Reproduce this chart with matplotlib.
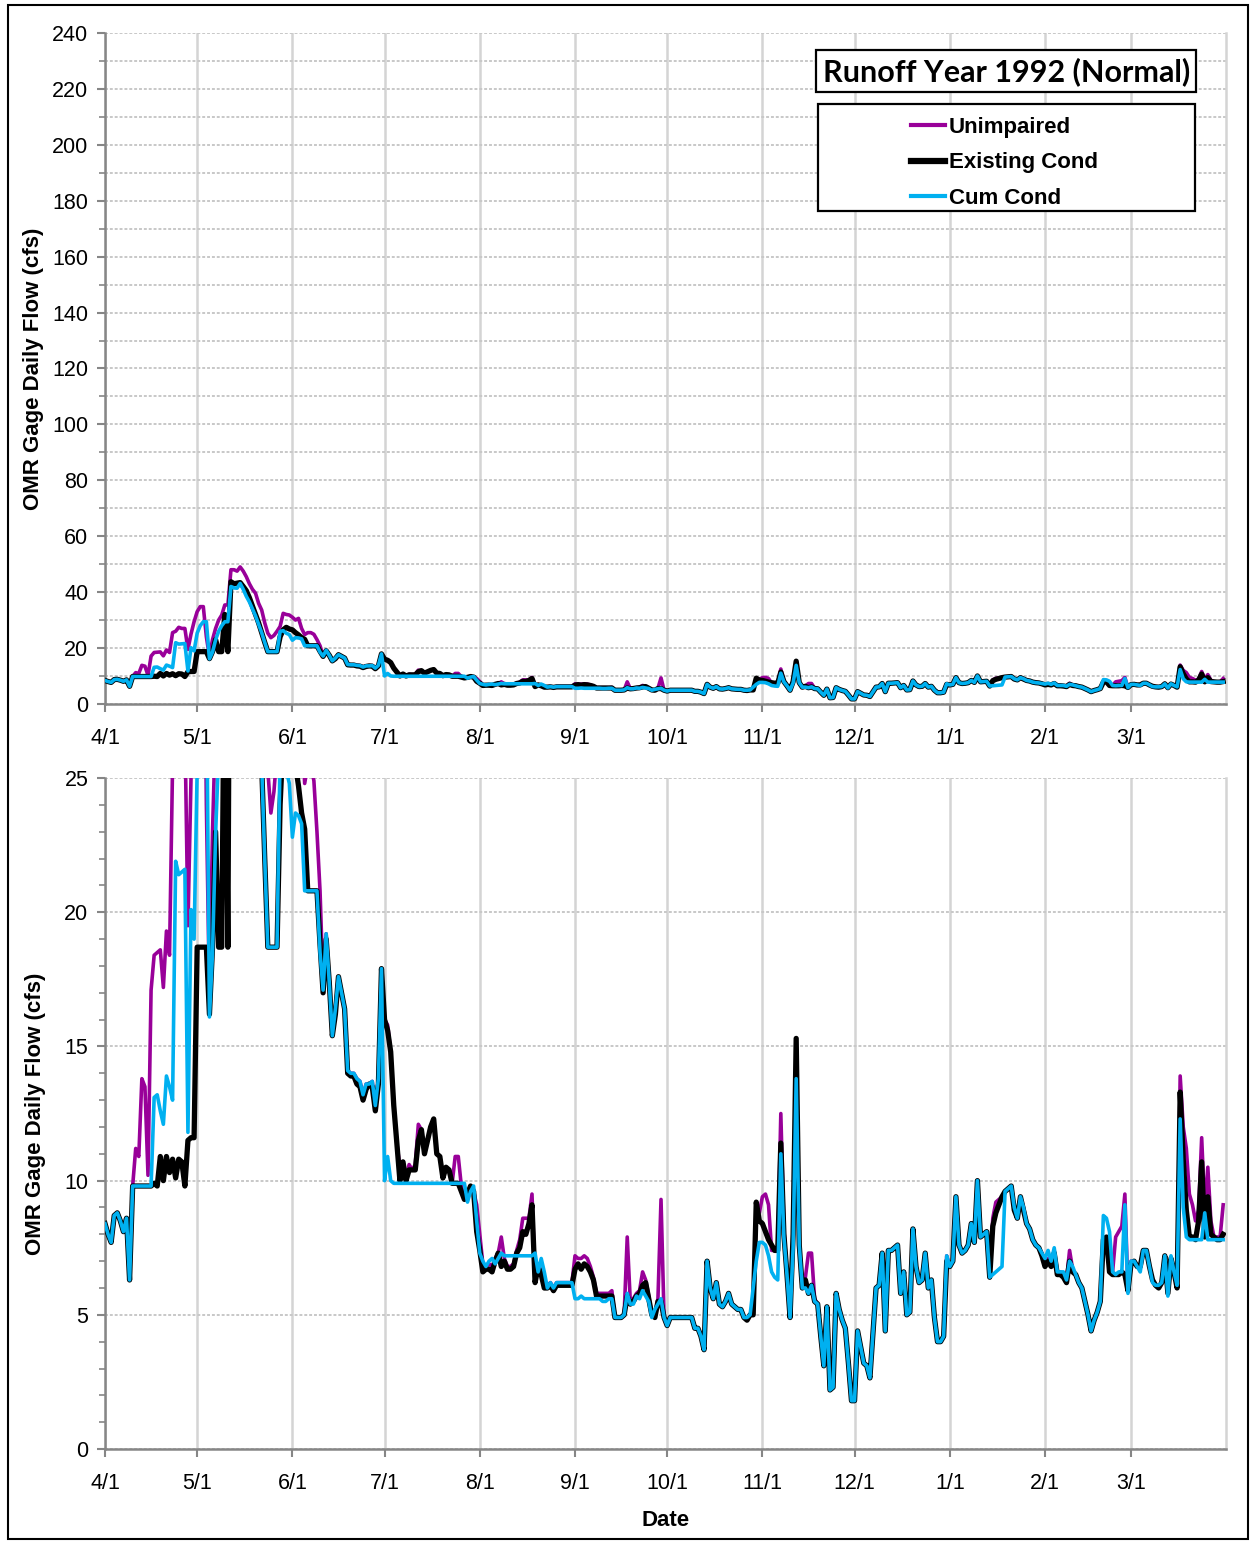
import numpy as np
import pandas as pd
import matplotlib
matplotlib.use("Agg")
import matplotlib.pyplot as plt
from matplotlib.patches import Rectangle
from matplotlib.ticker import MultipleLocator

# daily flows, 4/1/1992 - 3/31/1993 (cfs)
existing = [
    8.4, 8.0, 7.7, 8.7, 8.8, 8.5, 8.1, 8.6, 6.3, 9.8,
    9.8, 9.8, 9.8, 9.8, 9.8, 9.8, 9.9, 9.8, 10.9, 10.0,
    10.9, 10.3, 10.8, 10.1, 10.8, 10.7, 9.8, 11.5, 11.6, 11.6,
    18.7, 18.7, 18.7, 18.7, 16.2, 18.7, 23.0, 18.7, 18.7, 32.0,
    18.7, 43.7, 43.0, 43.2, 43.4, 42.0, 40.5, 38.0, 35.0, 32.0,
    29.0, 25.5, 22.0, 18.7, 18.7, 18.7, 18.7, 24.0, 26.5, 27.4,
    26.8, 26.5, 25.5, 24.7, 23.7, 23.1, 20.8, 20.8, 20.8, 20.8,
    18.8, 17.0, 19.0, 17.4, 15.4, 16.2, 17.6, 17.0, 16.4, 14.0,
    13.9, 13.9, 13.6, 13.5, 13.0, 13.4, 13.6, 13.5, 12.6, 13.6,
    17.9, 16.0, 15.6, 14.8, 12.8, 11.4, 10.0, 10.7, 10.0, 10.4,
    10.4, 10.4, 11.5, 11.9, 11.0, 11.5, 12.0, 12.3, 11.0, 10.9,
    10.1, 10.5, 10.4, 9.9, 9.9, 9.9, 9.6, 9.3, 9.5, 9.8,
    9.6, 8.1, 7.4, 6.6, 6.7, 6.7, 6.6, 7.0, 7.3, 6.8,
    7.0, 6.7, 6.7, 6.8, 7.3, 7.5, 8.1, 8.0, 8.4, 9.1,
    6.2, 6.8, 6.5, 6.0, 6.0, 6.1, 5.9, 6.1, 6.1, 6.1,
    6.1, 6.1, 6.1, 6.7, 6.9, 6.7, 6.9, 6.8, 6.6, 6.3,
    5.7, 5.7, 5.7, 5.7, 5.7, 5.7, 4.9, 4.9, 4.9, 5.0,
    5.7, 5.4, 5.5, 5.7, 5.8, 6.1, 6.2, 5.6, 5.0, 4.9,
    5.5, 5.5, 4.9, 4.6, 4.9, 4.9, 4.9, 4.9, 4.9, 4.9,
    4.9, 4.9, 4.5, 4.5, 4.2, 3.7, 7.0, 6.0, 5.6, 6.2,
    5.4, 5.3, 5.5, 5.8, 5.4, 5.3, 5.2, 5.2, 4.9, 4.8,
    5.0, 5.0, 9.2, 8.5, 8.4, 8.1, 7.8, 7.6, 7.4, 7.4,
    11.4, 8.0, 6.5, 4.9, 8.0, 15.3, 7.6, 6.0, 6.3, 5.8,
    6.1, 5.5, 5.4, 4.2, 3.1, 5.3, 2.2, 2.3, 5.8, 5.2,
    4.8, 4.5, 3.2, 1.8, 1.8, 4.4, 3.8, 3.2, 3.1, 2.65,
    4.3, 6.0, 6.1, 7.3, 4.4, 7.4, 7.4, 7.5, 7.6, 5.8,
    6.6, 5.0, 5.1, 8.2, 6.8, 6.2, 6.3, 7.3, 6.0, 6.3,
    4.9, 4.0, 4.0, 4.2, 7.0, 6.8, 7.0, 9.4, 7.6, 7.3,
    7.4, 7.6, 8.4, 7.7, 10.0, 7.9, 8.0, 8.1, 6.4, 8.3,
    8.8, 9.1, 9.4, 9.6, 9.7, 9.8, 8.9, 8.6, 9.4, 8.9,
    8.4, 8.2, 7.8, 7.6, 7.5, 7.2, 6.8, 7.0, 6.8, 7.3,
    6.5, 6.5, 6.4, 6.2, 7.0, 6.6, 6.5, 6.2, 6.0, 5.5,
    5.0, 4.4, 4.8, 5.1, 5.5, 7.8, 7.9, 6.6, 6.5, 6.5,
    6.5, 6.6, 6.5, 5.9, 6.9, 7.0, 6.8, 6.8, 7.4, 7.4,
    6.8, 6.3, 6.1, 6.0, 6.2, 7.2, 5.8, 7.1, 6.6, 6.0,
    13.3, 10.8, 8.9, 7.9, 7.9, 7.8, 8.5, 10.7, 7.9, 9.4,
    8.0, 7.9, 7.8, 7.8, 8.0,
]

cum_cond = [
    8.4, 8.0, 7.7, 8.7, 8.8, 8.5, 8.1, 8.6, 6.3, 9.8,
    9.8, 9.8, 9.8, 9.8, 9.8, 9.8, 13.1, 13.2, 12.6, 12.1,
    13.9, 13.5, 13.0, 21.9, 21.4, 21.5, 21.6, 11.8, 20.1, 19.0,
    25.3, 28.0, 29.4, 29.4, 16.1, 18.5, 22.9, 26.0, 28.0, 29.4,
    29.4, 42.0, 41.5, 41.4, 43.1, 41.0, 38.5, 36.5, 34.0, 31.5,
    28.5, 25.5, 22.0, 18.7, 18.7, 18.7, 18.7, 25.9, 26.2, 25.3,
    24.8, 22.8, 23.7, 23.6, 23.3, 20.8, 20.8, 20.8, 20.8, 20.8,
    18.5, 17.1, 19.2, 17.4, 15.4, 16.4, 17.6, 17.0, 16.4, 14.1,
    14.0, 14.0, 13.8, 13.7, 13.2, 13.6, 13.6, 13.7, 12.8, 13.8,
    17.9, 10.0, 10.9, 10.0, 9.9, 9.9, 9.9, 9.9, 9.9, 9.9,
    9.9, 9.9, 9.9, 9.9, 9.9, 9.9, 9.9, 9.9, 9.9, 9.9,
    9.9, 9.9, 9.9, 9.9, 9.9, 9.9, 9.9, 9.9, 9.2, 9.6,
    9.8, 8.5, 7.3, 7.0, 6.8, 7.0, 7.1, 6.9, 7.1, 7.3,
    7.2, 7.2, 7.2, 7.2, 7.2, 7.2, 7.2, 7.2, 7.2, 7.2,
    7.3, 6.6, 7.1, 6.6, 6.0, 6.2, 6.0, 6.2, 6.2, 6.2,
    6.2, 6.2, 6.2, 5.6, 5.6, 5.7, 5.6, 5.6, 5.6, 5.6,
    5.6, 5.6, 5.5, 5.5, 5.6, 5.6, 4.9, 4.9, 4.9, 5.0,
    5.8, 5.4, 5.4, 5.7, 5.6, 5.9, 5.7, 5.5, 4.9, 5.2,
    5.4, 5.6, 4.9, 4.6, 4.9, 4.9, 4.9, 4.9, 4.9, 4.9,
    4.9, 4.9, 4.5, 4.5, 4.2, 3.7, 7.0, 6.0, 5.6, 6.2,
    5.4, 5.3, 5.5, 5.8, 5.4, 5.3, 5.2, 5.2, 4.9, 4.9,
    5.0, 6.0, 7.0, 7.7, 7.7, 7.6, 7.2, 6.6, 6.4, 6.3,
    11.0, 7.9, 6.5, 4.9, 7.5, 13.8, 7.6, 6.0, 6.0, 5.8,
    6.1, 5.5, 5.4, 4.2, 3.1, 5.3, 2.2, 2.3, 5.8, 5.2,
    4.8, 4.5, 3.2, 1.8, 1.8, 4.4, 3.8, 3.2, 3.1, 2.65,
    4.3, 6.0, 6.1, 7.3, 4.4, 7.4, 7.4, 7.5, 7.6, 5.8,
    6.6, 5.0, 5.1, 8.2, 6.8, 6.2, 6.3, 7.3, 6.0, 6.3,
    4.9, 4.0, 4.0, 4.2, 7.2, 6.8, 7.0, 9.4, 7.6, 7.3,
    7.4, 7.6, 8.4, 7.7, 10.0, 7.9, 8.0, 8.1, 6.4, 6.5,
    6.6, 6.7, 6.8, 9.6, 9.7, 9.8, 9.0, 8.6, 9.4, 9.0,
    8.4, 8.2, 7.8, 7.6, 7.5, 7.3, 7.1, 7.4, 7.0, 7.5,
    6.6, 6.6, 6.6, 6.3, 7.0, 6.8, 6.5, 6.2, 6.0, 5.5,
    5.0, 4.4, 4.8, 5.1, 5.5, 8.7, 8.6, 8.1, 6.6, 6.5,
    6.6, 6.6, 9.1, 5.8, 7.0, 7.0, 6.8, 6.6, 7.4, 7.4,
    6.8, 6.2, 6.1, 6.1, 6.2, 7.2, 5.7, 7.2, 6.6, 6.1,
    12.3, 9.0, 7.9, 7.8, 7.8, 7.8, 7.8, 7.8, 8.8, 7.8,
    7.8, 7.8, 7.8, 7.8, 7.8,
]

unimpaired = [
    8.4, 8.0, 7.7, 8.7, 8.8, 8.5, 8.1, 8.6, 6.3, 9.8,
    11.2, 10.9, 13.8, 13.5, 10.2, 17.1, 18.4, 18.5, 18.6, 17.2,
    19.3, 18.4, 25.5, 26.0, 27.4, 27.0, 27.0, 19.5, 25.0, 29.4,
    33.0, 34.8, 34.8, 24.0, 16.9, 23.0, 27.0, 30.0, 31.8, 35.4,
    35.4, 48.0, 48.0, 47.5, 49.0, 47.5, 45.5, 43.0, 41.0, 39.6,
    36.0, 33.6, 29.0, 25.3, 23.7, 24.5, 26.0, 27.7, 32.4, 32.0,
    31.8, 31.0, 30.0, 30.6, 27.0, 24.8, 25.5, 25.5, 24.9, 23.0,
    20.8, 17.3, 19.2, 17.4, 15.4, 16.4, 17.6, 17.0, 16.4, 14.1,
    14.0, 14.0, 13.8, 13.7, 13.2, 13.6, 13.6, 13.7, 12.8, 13.8,
    17.9, 16.0, 15.8, 14.8, 12.8, 11.4, 10.5, 10.7, 10.1, 10.6,
    10.4, 10.6, 12.1, 11.9, 11.0, 11.5, 12.0, 12.3, 11.0, 10.9,
    10.1, 10.5, 10.4, 9.9, 10.9, 10.9, 9.8, 9.3, 9.5, 9.8,
    9.6, 9.1, 8.0, 6.9, 6.8, 6.9, 6.8, 7.1, 7.3, 7.9,
    7.1, 6.8, 6.8, 6.9, 7.4, 7.8, 8.6, 8.6, 8.6, 9.5,
    6.3, 6.9, 6.6, 6.1, 6.1, 6.2, 6.0, 6.2, 6.2, 6.2,
    6.2, 6.2, 6.2, 7.2, 7.1, 7.1, 7.2, 7.1, 6.8, 6.4,
    5.8, 5.8, 5.8, 5.8, 5.8, 5.9, 4.9, 4.9, 4.9, 5.0,
    7.9, 5.5, 5.6, 5.8, 5.9, 6.6, 6.3, 5.7, 5.0, 5.0,
    5.6, 9.3, 4.9, 4.6, 4.9, 4.9, 4.9, 4.9, 4.9, 4.9,
    4.9, 4.9, 4.5, 4.5, 4.2, 3.7, 7.0, 6.0, 5.6, 6.2,
    5.4, 5.3, 5.5, 5.8, 5.4, 5.3, 5.2, 5.2, 4.9, 4.8,
    5.0, 5.1, 9.2, 8.8, 9.4, 9.5, 9.1, 7.4, 7.4, 7.4,
    12.5, 8.2, 6.5, 4.9, 8.0, 13.9, 7.6, 6.0, 6.4, 7.3,
    7.3, 5.6, 5.4, 4.2, 3.1, 5.3, 2.2, 2.3, 5.8, 5.2,
    4.8, 4.5, 3.2, 1.8, 1.8, 4.4, 3.8, 3.2, 3.1, 2.65,
    4.3, 6.0, 6.1, 7.3, 4.4, 7.4, 7.4, 7.5, 7.6, 5.8,
    6.6, 5.0, 5.1, 8.2, 6.8, 6.2, 6.3, 7.3, 6.0, 6.3,
    4.9, 4.0, 4.0, 4.2, 7.2, 6.8, 7.0, 9.4, 7.6, 7.3,
    7.4, 7.6, 8.4, 7.7, 10.0, 7.9, 8.0, 8.1, 6.6, 8.6,
    9.2, 9.3, 9.4, 9.6, 9.7, 9.8, 9.0, 8.6, 9.4, 9.0,
    8.4, 8.2, 7.8, 7.6, 7.5, 7.3, 6.9, 7.1, 6.9, 7.4,
    6.6, 6.6, 6.5, 6.3, 7.4, 6.7, 6.5, 6.2, 6.0, 5.5,
    5.0, 4.4, 4.8, 5.1, 5.5, 7.8, 7.9, 6.6, 6.6, 7.9,
    8.1, 8.3, 9.5, 5.9, 7.0, 7.0, 6.8, 6.8, 7.4, 7.4,
    6.8, 6.3, 6.1, 6.0, 6.2, 7.2, 5.8, 7.1, 6.6, 6.0,
    13.9, 12.0, 11.2, 9.5, 9.1, 8.5, 8.9, 11.6, 8.9, 10.5,
    8.5, 7.9, 7.9, 7.9, 9.1,
]

dates = pd.date_range("1992-04-01", periods=len(existing), freq="D")
month_ticks = pd.date_range("1992-04-01", "1993-03-01", freq="MS")
month_labels = ["4/1", "5/1", "6/1", "7/1", "8/1", "9/1", "10/1",
                "11/1", "12/1", "1/1", "2/1", "3/1"]

PURPLE = "#990099"
CYAN = "#00B0F0"
GRID_H = "#c8c8c8"
GRID_V = "#d4d4d4"
SPINE = "#868686"

plt.rcParams["font.family"] = ["Liberation Sans", "DejaVu Sans"]

fig = plt.figure(figsize=(12.5, 15.42), dpi=100)
ax_top = fig.add_axes([0.084, 0.5435, 0.897, 0.4351])
ax_bot = fig.add_axes([0.084, 0.0603, 0.897, 0.4351])


def style_axis(ax, ymax, major, minor, minor_grid, label_x):
    ax.plot(dates, unimpaired, color=PURPLE, lw=2.6, label="Unimpaired", zorder=3)
    ax.plot(dates, existing, color="black", lw=3.8, label="Existing Cond", zorder=4)
    ax.plot(dates, cum_cond, color=CYAN, lw=2.6, label="Cum Cond", zorder=5)

    ax.set_xlim(pd.Timestamp("1992-04-01"), pd.Timestamp("1993-04-01"))
    ax.set_ylim(0, ymax)
    ax.set_xticks(month_ticks)
    ax.set_xticklabels(month_labels)
    ax.yaxis.set_major_locator(MultipleLocator(major))
    ax.yaxis.set_minor_locator(MultipleLocator(minor))

    ax.grid(True, axis="x", which="major", color=GRID_V, lw=1.8, ls="-", zorder=0)
    ax.grid(True, axis="y", which="major", color=GRID_H, lw=1.4, ls=(0, (1.5, 1)), zorder=0)
    if minor_grid:
        ax.grid(True, axis="y", which="minor", color=GRID_H, lw=1.4, ls=(0, (1.5, 1)), zorder=0)

    ax.spines["top"].set_visible(False)
    ax.spines["right"].set_color(GRID_V)
    ax.spines["right"].set_linewidth(1.8)
    for side in ["left", "bottom"]:
        ax.spines[side].set_color(SPINE)
        ax.spines[side].set_linewidth(1.8)

    ax.tick_params(axis="both", which="major", direction="out", length=6,
                   width=1.5, color=SPINE, labelsize=15.5, pad=6)
    ax.tick_params(axis="y", which="minor", direction="out", length=4,
                   width=1.2, color=SPINE)
    ax.tick_params(axis="x", which="major", pad=11)
    ax.set_ylabel("OMR Gage Daily Flow (cfs)", fontsize=16, fontweight="bold")
    ax.yaxis.set_label_coords(label_x, 0.5)


style_axis(ax_top, 240, 20, 10, True, -0.0544)
style_axis(ax_bot, 25, 5, 1, False, -0.0526)
ax_bot.set_xlabel("Date", fontsize=16, fontweight="bold", labelpad=12)

# title box and legend in the upper panel
ax_top.text(0.8037, 0.943, "Runoff Year 1992 (Normal)", transform=ax_top.transAxes,
            family=["Lato", "DejaVu Sans"], fontsize=22, fontweight="bold",
            ha="center", va="center", zorder=10,
            bbox=dict(boxstyle="square,pad=0.22", fc="white", ec="black", lw=1.6))
ax_top.add_patch(Rectangle((0.6360, 0.734), 0.3360, 0.160, transform=ax_top.transAxes,
                           fc="white", ec="black", lw=1.6, zorder=9))
leg = ax_top.legend(loc="upper left", bbox_to_anchor=(0.701, 0.905), frameon=False,
                    handlelength=1.55, handletextpad=0.15, labelspacing=0.66,
                    prop={"size": 16, "weight": "bold"})
leg.set_zorder(11)
for line in leg.get_lines():
    line.set_linewidth(3)
leg.get_lines()[1].set_linewidth(4.5)

# outer frame around the whole picture
fig.patches.append(Rectangle((0.006, 0.002), 0.992, 0.995, transform=fig.transFigure,
                             fill=False, ec="black", lw=1.5))

fig.savefig("out.png", dpi=100)
